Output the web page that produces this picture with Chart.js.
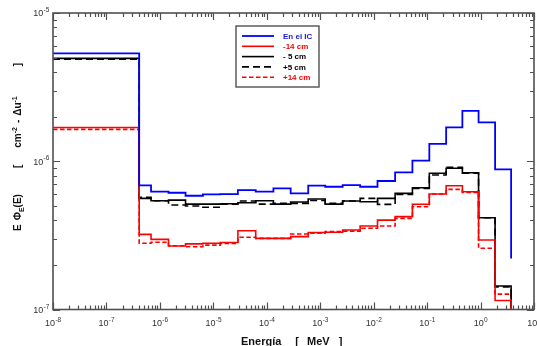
<!DOCTYPE html>
<html>
<head>
<meta charset="utf-8">
<script src="https://cdn.jsdelivr.net/npm/chart.js@4.4.0/dist/chart.umd.min.js"></script>
<style>
  html, body { margin: 0; padding: 0; background: #fff; }
</style>
</head>
<body>
<canvas id="chart" width="537" height="346"></canvas>
<script>
// bin edges in MeV (left edges of the 23 bins + final upper edge)
const energyEdges = [1e-8, 4.1e-7, 6.83e-7, 1.45e-6, 3.02e-6, 6.38e-6, 1.35e-5, 2.88e-5, 6.21e-5,
  1.33e-4, 2.80e-4, 5.96e-4, 1.24e-3, 2.63e-3, 5.58e-3, 1.18e-2, 2.52e-2, 5.31e-2,
  0.110, 0.227, 0.457, 0.918, 1.87, 3.73];

// value of each bin, last entry = where the line ends after the final edge
const enElIC = [5.34e-6, 6.88e-7, 6.23e-7, 6.13e-7, 5.85e-7, 5.98e-7, 6.01e-7, 6.39e-7, 6.23e-7,
  6.57e-7, 6.07e-7, 6.84e-7, 6.73e-7, 6.91e-7, 6.73e-7, 7.36e-7, 8.42e-7, 1.01e-6,
  1.31e-6, 1.69e-6, 2.19e-6, 1.83e-6, 8.82e-7, 2.21e-7];
const minus14 = [1.69e-6, 3.21e-7, 2.97e-7, 2.68e-7, 2.77e-7, 2.80e-7, 2.83e-7, 3.40e-7, 3.02e-7,
  3.02e-7, 3.10e-7, 3.31e-7, 3.32e-7, 3.44e-7, 3.66e-7, 4.01e-7, 4.23e-7, 5.13e-7,
  6.01e-7, 6.84e-7, 6.23e-7, 2.94e-7, 1.15e-7, 1e-7];
const minus5 = [4.94e-6, 5.62e-7, 5.41e-7, 5.47e-7, 5.14e-7, 5.14e-7, 5.17e-7, 5.25e-7, 5.41e-7,
  5.14e-7, 5.31e-7, 5.56e-7, 5.14e-7, 5.39e-7, 5.33e-7, 5.62e-7, 6.07e-7, 6.62e-7,
  8.29e-7, 8.96e-7, 8.37e-7, 4.16e-7, 1.44e-7, 1e-7];
const plus5 = [4.87e-6, 5.71e-7, 5.41e-7, 5.07e-7, 4.99e-7, 4.89e-7, 5.14e-7, 5.39e-7, 5.14e-7,
  5.20e-7, 5.20e-7, 5.43e-7, 5.20e-7, 5.39e-7, 5.62e-7, 5.12e-7, 5.98e-7, 6.55e-7,
  8.07e-7, 9.10e-7, 8.29e-7, 4.16e-7, 1.42e-7, 1e-7];
const plus14 = [1.64e-6, 2.80e-7, 2.84e-7, 2.69e-7, 2.65e-7, 2.72e-7, 2.79e-7, 3.07e-7, 3.02e-7,
  3.02e-7, 3.23e-7, 3.27e-7, 3.35e-7, 3.38e-7, 3.53e-7, 3.66e-7, 4.12e-7, 4.93e-7,
  6.01e-7, 6.46e-7, 6.17e-7, 2.59e-7, 1.27e-7, 1e-7];

const seriesLabels = ['En el IC', '-14 cm', '- 5 cm', '+5 cm', '+14 cm'];

// axis decades
const xExponents = [-8, -7, -6, -5, -4, -3, -2, -1, 0, 1];
const yExponents = [-7, -6, -5];

const FONT = "'Liberation Sans', Arial, sans-serif";
const axisColor = '#505050';

function toPoints(values) {
  return energyEdges.map((e, i) => ({ x: e, y: values[i] }));
}

function supLabel(ctx, exp, x, y, align) {
  ctx.font = '9px ' + FONT;
  const wb = ctx.measureText('10').width;
  ctx.font = '6.5px ' + FONT;
  const ws = ctx.measureText(String(exp)).width;
  let start = align === 'center' ? x - (wb + ws) / 2 : x - wb - ws;
  ctx.textAlign = 'left';
  ctx.textBaseline = 'alphabetic';
  ctx.font = '9px ' + FONT;
  ctx.fillText('10', start, y);
  ctx.font = '6.5px ' + FONT;
  ctx.fillText(String(exp), start + wb + 0.3, y - 4.2);
}

// draws a run of text pieces: [text, size, shift, gap before]
function textRun(ctx, pieces, x, y) {
  let cx = x;
  for (const [t, size, shift, gap] of pieces) {
    cx += gap || 0;
    ctx.font = 'bold ' + size + 'px ' + FONT;
    ctx.fillText(t, cx, y + shift);
    cx += ctx.measureText(t).width;
  }
}

const decor = {
  id: 'decor',
  afterDraw(chart) {
    const { ctx, chartArea: a, scales: { x, y } } = chart;
    ctx.save();
    ctx.strokeStyle = axisColor;
    ctx.lineWidth = 1.2;
    ctx.beginPath();
    // x ticks, bottom and top
    for (const e of xExponents) {
      for (let m = 1; m <= 9; m++) {
        const v = m * Math.pow(10, e);
        if (v > Math.pow(10, xExponents[xExponents.length - 1])) break;
        const px = Math.round(x.getPixelForValue(v)) + 0.5;
        const len = m === 1 ? 7 : 4;
        ctx.moveTo(px, a.bottom); ctx.lineTo(px, a.bottom - len);
        ctx.moveTo(px, a.top); ctx.lineTo(px, a.top + len);
      }
    }
    // y ticks, left and right
    for (const e of yExponents) {
      for (let m = 1; m <= 9; m++) {
        const v = m * Math.pow(10, e);
        if (v > Math.pow(10, yExponents[yExponents.length - 1])) break;
        const py = Math.round(y.getPixelForValue(v)) + 0.5;
        const len = m === 1 ? 7 : 4;
        ctx.moveTo(a.left, py); ctx.lineTo(a.left + len, py);
        ctx.moveTo(a.right, py); ctx.lineTo(a.right - len, py);
      }
    }
    ctx.stroke();
    ctx.lineWidth = 1.6;
    ctx.strokeRect(a.left, a.top, a.right - a.left, a.bottom - a.top);

    // tick labels
    ctx.fillStyle = '#333';
    for (const e of xExponents) {
      supLabel(ctx, e, x.getPixelForValue(Math.pow(10, e)), a.bottom + 16.5, 'center');
    }
    for (const e of yExponents) {
      supLabel(ctx, e, a.left - 4, y.getPixelForValue(Math.pow(10, e)) + 3.3, 'right');
    }

    // x title
    ctx.fillStyle = '#111';
    ctx.textAlign = 'left';
    ctx.textBaseline = 'alphabetic';
    textRun(ctx, [['Energía', 11, 0], ['[', 11, 0, 14], ['MeV', 11, 0, 8], [']', 11, 0, 9]], 241, 344.7);

    // y title (rotated)
    ctx.save();
    ctx.translate(21, 231);
    ctx.rotate(-Math.PI / 2);
    textRun(ctx, [
      ['E', 10, 0], ['Φ', 10, 0, 4], ['E', 7, 2.5], ['(E)', 10, 0],
      ['[', 10, 0, 26], ['cm', 10, 0, 17], ['-2', 7, -4], ['-', 10, 0, 4],
      ['Δu', 10, 0, 4], ['-1', 7, -4], [']', 10, 0, 30]
    ], 0, 0);
    ctx.restore();

    // legend
    const lx = 236, ly = 26, lw = 83, lh = 61;
    ctx.fillStyle = '#fff';
    ctx.fillRect(lx, ly, lw, lh);
    ctx.strokeStyle = axisColor;
    ctx.lineWidth = 1.4;
    ctx.strokeRect(lx, ly, lw, lh);
    chart.data.datasets.forEach((ds, i) => {
      const ry = ly + 10 + i * 10.3;
      ctx.strokeStyle = ds.borderColor;
      ctx.lineWidth = ds.borderWidth;
      ctx.setLineDash(ds.borderDash || []);
      ctx.beginPath();
      ctx.moveTo(lx + 6, ry);
      ctx.lineTo(lx + 38, ry);
      ctx.stroke();
      ctx.setLineDash([]);
      ctx.fillStyle = ds.textColor;
      ctx.font = 'bold 8px ' + FONT;
      ctx.textBaseline = 'middle';
      ctx.fillText(ds.label, lx + 47, ry + 0.5);
    });
    ctx.restore();
  }
};

const ctx = document.getElementById('chart').getContext('2d');

const datasets = [
  { label: seriesLabels[0], data: toPoints(enElIC), borderColor: '#0000ff', textColor: '#1a1ad0', borderWidth: 1.8 },
  { label: seriesLabels[1], data: toPoints(minus14), borderColor: '#ff0000', textColor: '#ff0000', borderWidth: 1.6 },
  { label: seriesLabels[2], data: toPoints(minus5), borderColor: '#000000', textColor: '#000000', borderWidth: 1.6 },
  { label: seriesLabels[3], data: toPoints(plus5), borderColor: '#000000', textColor: '#000000', borderWidth: 1.6, borderDash: [7, 4] },
  { label: seriesLabels[4], data: toPoints(plus14), borderColor: '#ff0000', textColor: '#ff0000', borderWidth: 1.6, borderDash: [4.5, 2.5] }
].map(ds => Object.assign({ stepped: 'before', pointRadius: 0, fill: false, tension: 0 }, ds));

new Chart(ctx, {
  type: 'line',
  data: { datasets: datasets },
  options: {
    responsive: false,
    animation: false,
    devicePixelRatio: 1,
    layout: { padding: { left: 53, right: 3, top: 13, bottom: 36.5 } },
    scales: {
      x: { type: 'logarithmic', min: 1e-8, max: 10, display: false },
      y: { type: 'logarithmic', min: 1e-7, max: 1e-5, display: false }
    },
    plugins: { legend: { display: false }, tooltip: { enabled: false } }
  },
  plugins: [decor]
});
</script>
</body>
</html>
